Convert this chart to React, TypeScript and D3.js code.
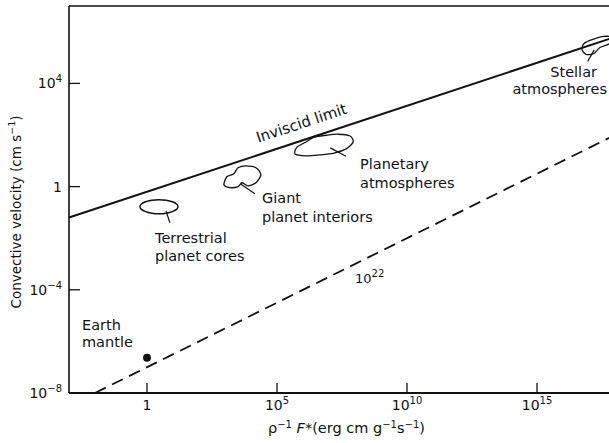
import React from "react";
import * as d3 from "d3";

// Axis extents (log10 decades)
const xDomain: [number, number] = [1e-3, 1e18];
const yDomain: [number, number] = [1e-8, 1e7];

// Tick values and labels
const xTicks = [1, 1e5, 1e10, 1e15];
const xTickLabels = [
  { base: "1", exp: "" },
  { base: "10", exp: "5" },
  { base: "10", exp: "10" },
  { base: "10", exp: "15" },
];
const yTicks = [1e-8, 1e-4, 1, 1e4];
const yTickLabels = [
  { base: "10", exp: "\u22128" },
  { base: "10", exp: "\u22124" },
  { base: "1", exp: "" },
  { base: "10", exp: "4" },
];

// Inviscid limit: v ∝ (F/ρ)^(1/3)
const inviscidLine: [number, number][] = [
  [1e-3, 0.0631],
  [1e18, 6.31e5],
];
// Viscous scaling curve labelled 10^22: v ∝ (F/ρ)^(1/2)
const viscousLine: [number, number][] = [
  [1e-2, 1e-8],
  [1e18, 1e2],
];
const viscousLabelAt: [number, number] = [1e8, 1.8e-4];

// Earth mantle point
const earthMantle: [number, number] = [1, 2.3e-7];

// Regions: centre (log10 F, log10 v) and outline offsets in decades
const terrestrialCentre: [number, number] = [0.46, -0.78];
const terrestrialRadii: [number, number] = [0.73, 0.27];
const giantCentre: [number, number] = [3.65, 0.38];
const giantOutline: [number, number][] = [
  [-0.69, -0.31], [-0.58, 0], [-0.31, 0.12], [-0.15, 0.35], [0.15, 0.42],
  [0.54, 0.35], [0.73, 0.08], [0.54, -0.23], [0.23, -0.35], [0, -0.23],
  [-0.15, -0.38], [-0.46, -0.42],
];
const planetaryCentre: [number, number] = [6.81, 1.61];
const planetaryOutline: [number, number][] = [
  [-1.12, -0.35], [-1.04, -0.08], [-0.69, 0.12], [-0.38, 0.31], [0.08, 0.38],
  [0.54, 0.42], [1.0, 0.35], [1.12, 0.12], [0.85, -0.15], [0.38, -0.31],
  [-0.15, -0.38], [-0.69, -0.42],
];
const stellarCentre: [number, number] = [17.27, 5.47];
const stellarOutline: [number, number][] = [
  [-0.54, -0.15], [-0.46, 0.08], [-0.15, 0.23], [0.31, 0.35], [0.62, 0.31],
  [0.54, 0.08], [0.15, -0.08], [-0.08, -0.31], [-0.38, -0.35],
];

// Leader lines from regions to their labels, in (log10 F, log10 v)
const leaders: [[number, number], [number, number]][] = [
  [[0.73, -0.94], [0.88, -1.4]],
  [[3.6, 0.1], [4.15, -0.28]],
  [[7.05, 1.5], [7.65, 1.18]],
  [[17.2, 5.3], [16.95, 4.85]],
];

const W = 609;
const H = 443;
const FONT = "'DejaVu Sans', 'Liberation Sans', sans-serif";

export default function App() {
  const x = d3.scaleLog().domain(xDomain).range([69, 615]);
  const y = d3.scaleLog().domain(yDomain).range([393, 6]);
  const lx = (v: number) => x(Math.pow(10, v));
  const ly = (v: number) => y(Math.pow(10, v));

  const line = d3
    .line<[number, number]>()
    .x((d) => x(d[0]))
    .y((d) => y(d[1]));

  const blob = d3
    .line<[number, number]>()
    .x((d) => d[0])
    .y((d) => d[1])
    .curve(d3.curveCardinalClosed.tension(0.2));

  const outlinePath = (c: [number, number], pts: [number, number][]) =>
    blob(pts.map((p) => [lx(c[0] + p[0]), ly(c[1] + p[1])] as [number, number]));

  const ellipsePts = d3.range(0, 16).map((i) => {
    const a = (i / 16) * 2 * Math.PI;
    return [terrestrialRadii[0] * Math.cos(a), terrestrialRadii[1] * Math.sin(a)] as [number, number];
  });

  const angle = (-Math.atan(((1 / 3) * 25.8) / 26) * 180) / Math.PI;

  const textProps = { fontFamily: FONT, fontSize: 13, fill: "#111" };
  const noteProps = { ...textProps, fontSize: 14.5 };

  return (
    <svg width={W} height={H} style={{ position: "absolute", left: 0, top: 0, background: "#fff" }}>
      <g stroke="#111" fill="none">
        {/* frame */}
        <line x1={69} x2={615} y1={6} y2={6} strokeWidth={1.6} />
        <line x1={69} x2={69} y1={6} y2={393} strokeWidth={1.6} />
        <line x1={69} x2={615} y1={393} y2={393} strokeWidth={1.8} />
        {/* inward ticks */}
        {xTicks.map((t) => (
          <line key={"xt" + t} x1={x(t)} x2={x(t)} y1={393} y2={383} strokeWidth={1.3} />
        ))}
        {yTicks.map((t) => (
          <line key={"yt" + t} x1={69} x2={80} y1={y(t)} y2={y(t)} strokeWidth={1.3} />
        ))}
        {/* curves */}
        <path d={line(inviscidLine) || ""} strokeWidth={2} />
        <path d={line(viscousLine) || ""} strokeWidth={1.8} strokeDasharray="12 7" />
        {/* regions */}
        <path d={outlinePath(terrestrialCentre, ellipsePts) || ""} strokeWidth={1.5} />
        <path d={outlinePath(giantCentre, giantOutline) || ""} strokeWidth={1.3} />
        <path d={outlinePath(planetaryCentre, planetaryOutline) || ""} strokeWidth={1.3} />
        <path d={outlinePath(stellarCentre, stellarOutline) || ""} strokeWidth={1.3} />
        {leaders.map((l, i) => (
          <line key={"ld" + i} x1={lx(l[0][0])} y1={ly(l[0][1])} x2={lx(l[1][0])} y2={ly(l[1][1])} strokeWidth={1.2} />
        ))}
      </g>
      <circle cx={x(earthMantle[0])} cy={y(earthMantle[1])} r={4} fill="#111" />

      {/* tick labels */}
      {xTicks.map((t, i) => (
        <text key={"xl" + t} x={x(t)} y={410} textAnchor="middle" {...textProps} fontSize={14}>
          {xTickLabels[i].base}
          {xTickLabels[i].exp && (
            <tspan dy={-6} fontSize={10}>{xTickLabels[i].exp}</tspan>
          )}
        </text>
      ))}
      {yTicks.map((t, i) => (
        <text key={"yl" + t} x={62} y={y(t) + 5} textAnchor="end" {...textProps} fontSize={14}>
          {yTickLabels[i].base}
          {yTickLabels[i].exp && (
            <tspan dy={-6} fontSize={10}>{yTickLabels[i].exp}</tspan>
          )}
        </text>
      ))}

      {/* axis titles */}
      <text x={268} y={433} {...textProps} fontSize={14.5}>
        {"\u03C1"}
        <tspan dy={-5} fontSize={10}>{"\u22121"}</tspan>
        <tspan dy={5} fontStyle="italic">{" F"}</tspan>
        <tspan>{"*(erg cm g"}</tspan>
        <tspan dy={-5} fontSize={10}>{"\u22121"}</tspan>
        <tspan dy={5}>{"s"}</tspan>
        <tspan dy={-5} fontSize={10}>{"\u22121"}</tspan>
        <tspan dy={5}>{")"}</tspan>
      </text>
      <text transform="translate(21,212) rotate(-90)" textAnchor="middle" {...textProps} fontSize={13.5}>
        {"Convective velocity (cm s"}
        <tspan dy={-6} fontSize={9.5}>{"\u22121"}</tspan>
        <tspan dy={6}>{")"}</tspan>
      </text>

      {/* annotations */}
      <text transform={`translate(${lx(6.0)},${ly(2.27)}) rotate(${angle})`} textAnchor="middle" {...noteProps} fontSize={15}>
        Inviscid limit
      </text>
      <text x={x(viscousLabelAt[0])} y={y(viscousLabelAt[1])} {...textProps}>
        10<tspan dy={-6} fontSize={10}>22</tspan>
      </text>
      <text x={155} y={243} {...noteProps}>
        <tspan x={155}>Terrestrial</tspan>
        <tspan x={155} dy={18}>planet cores</tspan>
      </text>
      <text x={262} y={203} {...noteProps}>
        <tspan x={262}>Giant</tspan>
        <tspan x={262} dy={19}>planet interiors</tspan>
      </text>
      <text x={360} y={169} {...noteProps}>
        <tspan x={360}>Planetary</tspan>
        <tspan x={360} dy={19}>atmospheres</tspan>
      </text>
      <text x={607} y={77} textAnchor="end" {...noteProps}>
        <tspan x={597}>Stellar</tspan>
        <tspan x={607} dy={17}>atmospheres</tspan>
      </text>
      <text x={82} y={330} {...noteProps}>
        <tspan x={82}>Earth</tspan>
        <tspan x={82} dy={17}>mantle</tspan>
      </text>
    </svg>
  );
}
